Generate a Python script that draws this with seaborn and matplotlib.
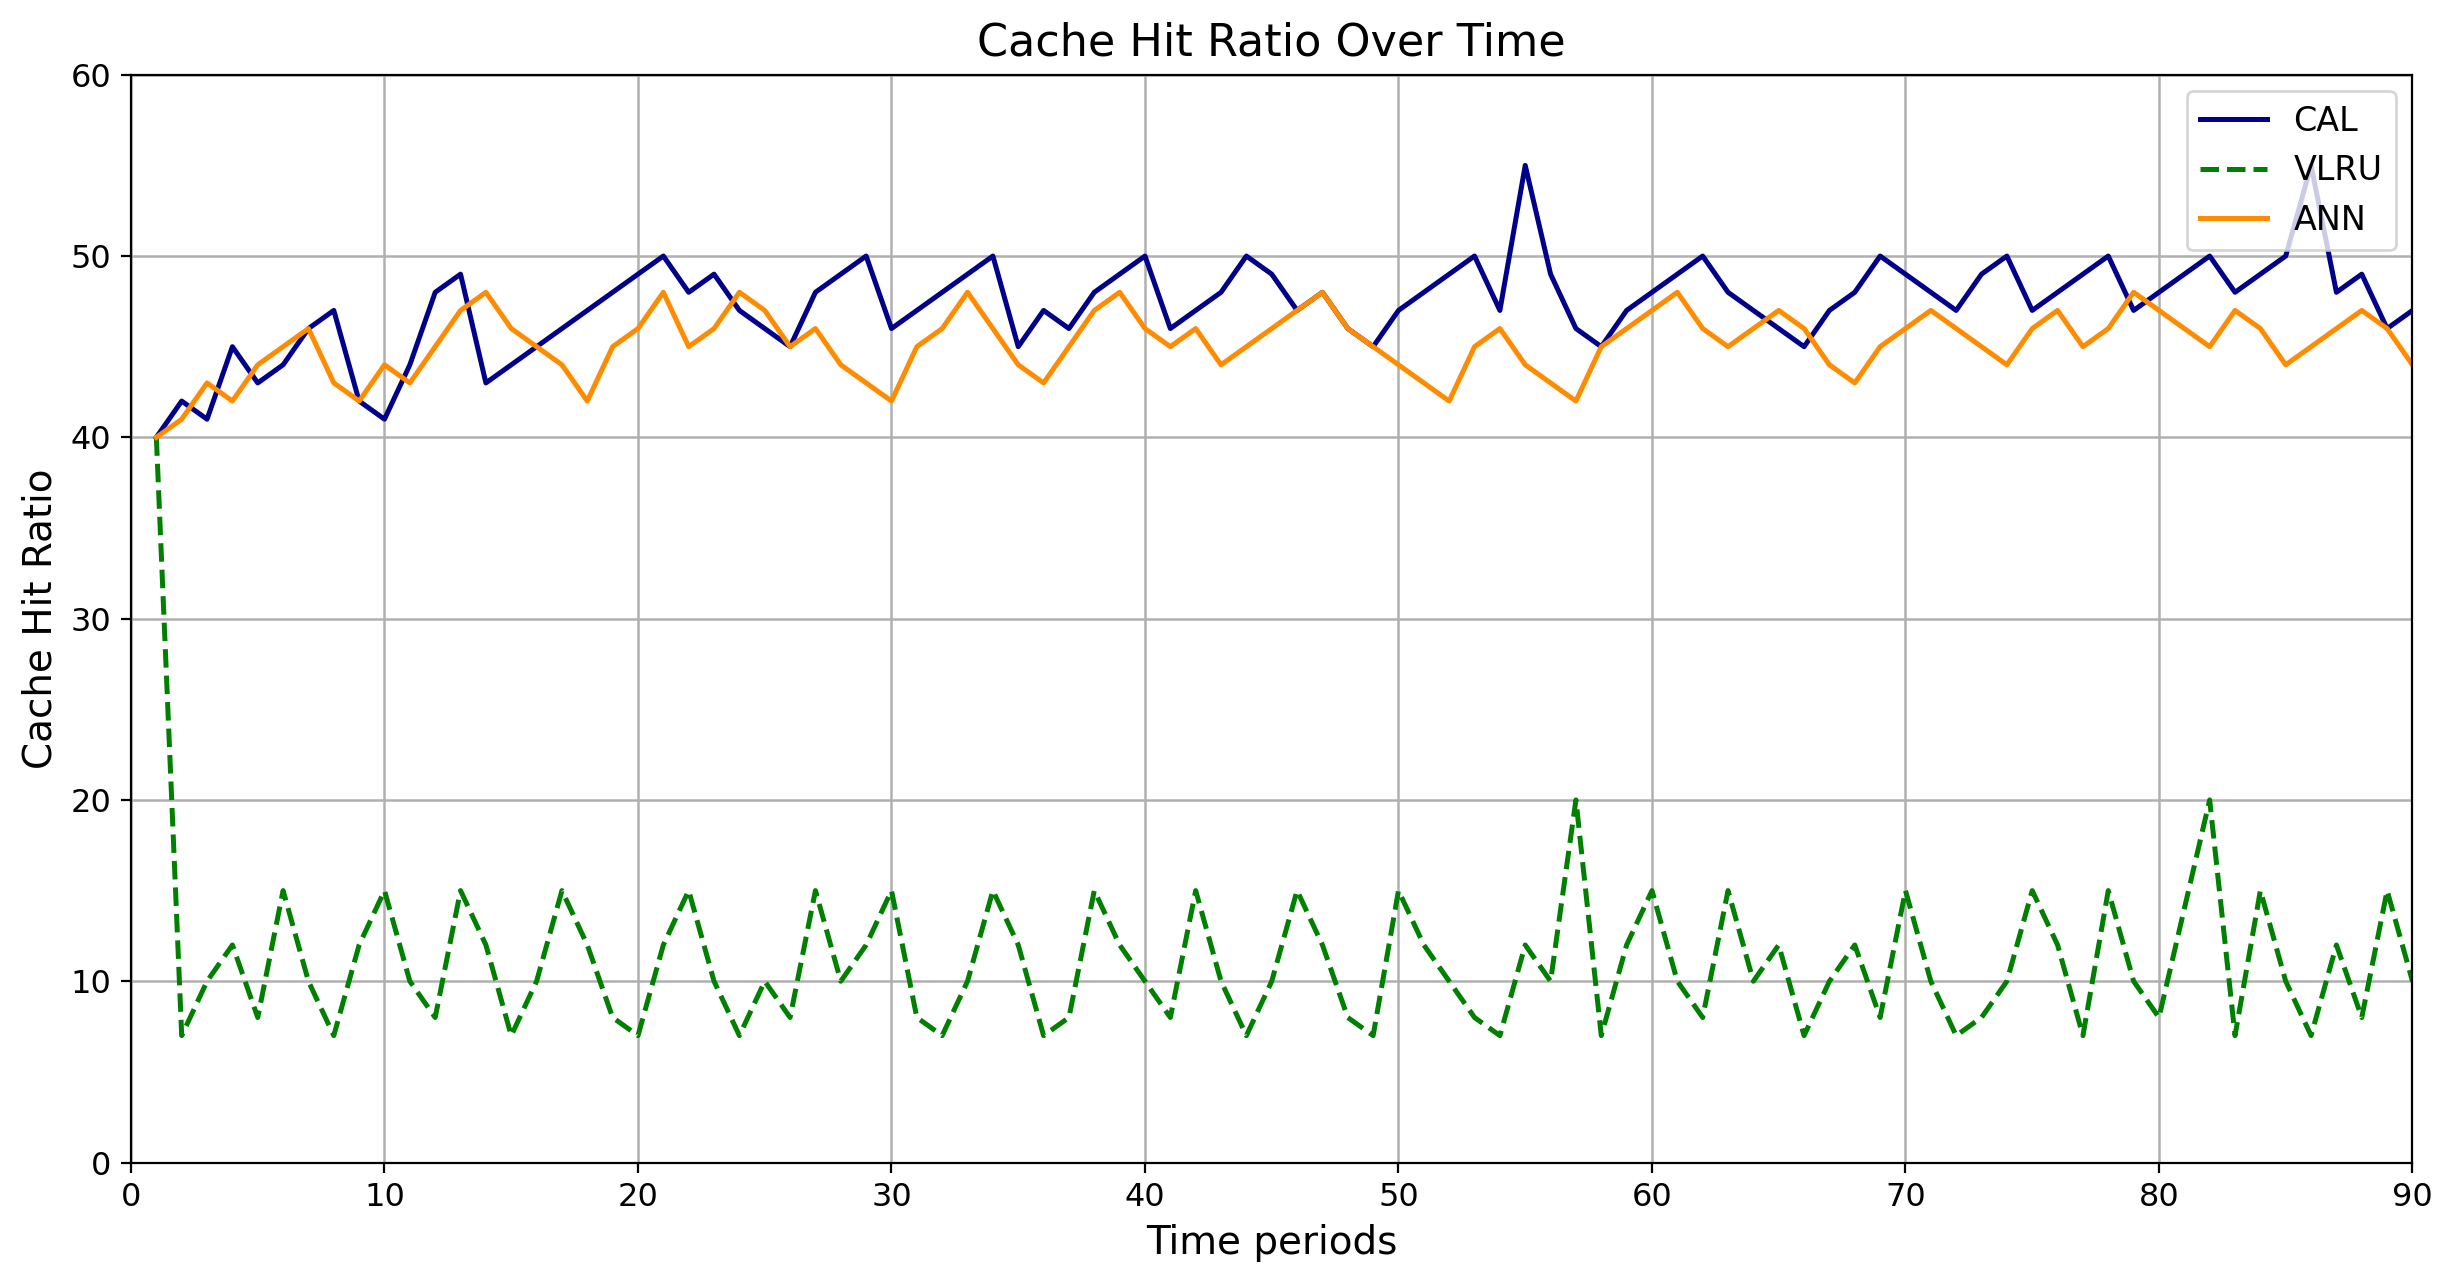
import matplotlib
matplotlib.use("Agg")
import matplotlib.pyplot as plt
import seaborn as sns
import pandas as pd
import numpy as np

periods = list(range(1, 91))

cal = [40, 42, 41, 45, 43, 44, 46, 47, 42, 41,
       44, 48, 49, 43, 44, 45, 46, 47, 48, 49,
       50, 48, 49, 47, 46, 45, 48, 49, 50, 46,
       47, 48, 49, 50, 45, 47, 46, 48, 49, 50,
       46, 47, 48, 50, 49, 47, 48, 46, 45, 47,
       48, 49, 50, 47, 55, 49, 46, 45, 47, 48,
       49, 50, 48, 47, 46, 45, 47, 48, 50, 49,
       48, 47, 49, 50, 47, 48, 49, 50, 47, 48,
       49, 50, 48, 49, 50, 55, 48, 49, 46, 47]

vlru = [40, 7, 10, 12, 8, 15, 10, 7, 12, 15,
        10, 8, 15, 12, 7, 10, 15, 12, 8, 7,
        12, 15, 10, 7, 10, 8, 15, 10, 12, 15,
        8, 7, 10, 15, 12, 7, 8, 15, 12, 10,
        8, 15, 10, 7, 10, 15, 12, 8, 7, 15,
        12, 10, 8, 7, 12, 10, 20, 7, 12, 15,
        10, 8, 15, 10, 12, 7, 10, 12, 8, 15,
        10, 7, 8, 10, 15, 12, 7, 15, 10, 8,
        14, 20, 7, 15, 10, 7, 12, 8, 15, 10]

ann = [40, 41, 43, 42, 44, 45, 46, 43, 42, 44,
       43, 45, 47, 48, 46, 45, 44, 42, 45, 46,
       48, 45, 46, 48, 47, 45, 46, 44, 43, 42,
       45, 46, 48, 46, 44, 43, 45, 47, 48, 46,
       45, 46, 44, 45, 46, 47, 48, 46, 45, 44,
       43, 42, 45, 46, 44, 43, 42, 45, 46, 47,
       48, 46, 45, 46, 47, 46, 44, 43, 45, 46,
       47, 46, 45, 44, 46, 47, 45, 46, 48, 47,
       46, 45, 47, 46, 44, 45, 46, 47, 46, 44]

x_ticks = list(range(0, 91, 10))
y_ticks = list(range(0, 61, 10))

fig = plt.figure(figsize=(12.22, 6.42), dpi=200)
ax = fig.add_axes([0.0536, 0.0946, 0.9335, 0.8472])

sns.lineplot(x=periods, y=cal, ax=ax, color="darkblue", linestyle="-", linewidth=1.8, label="CAL")
sns.lineplot(x=periods, y=vlru, ax=ax, color="green", linestyle="--", linewidth=1.8, label="VLRU")
sns.lineplot(x=periods, y=ann, ax=ax, color="darkorange", linestyle="-", linewidth=1.8, label="ANN")

ax.set_xlim(0, 90)
ax.set_ylim(0, 60)
ax.set_xticks(x_ticks)
ax.set_yticks(y_ticks)
ax.grid(True, color="#b0b0b0", linewidth=0.9)
ax.set_axisbelow(True)
ax.set_title("Cache Hit Ratio Over Time", fontsize=16, pad=7)
ax.set_xlabel("Time periods", fontsize=14)
ax.set_ylabel("Cache Hit Ratio", fontsize=14)
ax.tick_params(labelsize=11.5)
ax.legend(loc="upper right", fontsize=12)

fig.savefig("out.png", dpi=200)
